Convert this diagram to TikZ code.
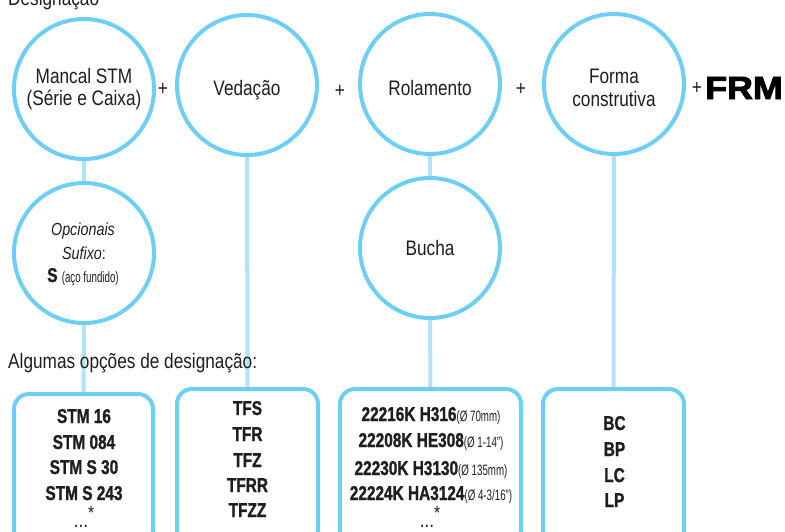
\documentclass[tikz,border=0pt]{standalone}
\usepackage{fontspec}
\usetikzlibrary{backgrounds}
\newfontfamily\cond[FakeStretch=0.82]{Liberation Sans}
\newfontfamily\bcond[FakeStretch=0.77,FakeBold=1.2]{Liberation Sans Bold}
\newfontfamily\xcond[FakeStretch=0.65]{Liberation Sans}
\newfontfamily\frmfont[FakeStretch=1.12,FakeBold=3]{Liberation Sans Bold}
\definecolor{ring}{HTML}{6DCFF6}
\definecolor{link}{HTML}{B0E2F8}
\definecolor{txtc}{HTML}{1E1E1E}
\newcommand{\sm}{\xcond\fontsize{15}{15}\selectfont}
\newcommand{\dotsstar}{{\cond\fontsize{21}{21}\selectfont ...}\raisebox{8pt}{\cond\fontsize{19}{19}\selectfont *}}
\tikzset{
  circ/.style={circle, draw=ring, line width=4pt, minimum size=140pt, inner sep=0pt},
  boxx/.style={rectangle, draw=ring, line width=4pt, rounded corners=15pt, inner sep=0pt},
  conn/.style={draw=link, line width=4pt},
  txt/.style={font=\cond\fontsize{21}{21}\selectfont, text=txtc, inner sep=0pt, anchor=base},
  ittxt/.style={font=\cond\itshape\fontsize{17.5}{17.5}\selectfont, text=txtc, inner sep=0pt, anchor=base},
  btxt/.style={font=\bcond\fontsize{20}{20}\selectfont, text=txtc, inner sep=0pt, anchor=base},
  plus/.style={font=\cond\fontsize{21}{21}\selectfont, text=txtc, inner sep=0pt, anchor=center}
}
\begin{document}
\begin{tikzpicture}[x=1pt,y=-1pt]
\useasboundingbox (0,0) rectangle (785,531);
\clip (0,0) rectangle (785,531);
% headings
\node[txt, anchor=base west] (hd1) at (8,5) {Designação};
\node[txt, anchor=base west] (hd2) at (8,368) {Algumas opções de designação:};
% circles
\node[circ] (c1) at (84,89) {};
\node[circ] (c2) at (247,85) {};
\node[circ] (c3) at (430,84) {};
\node[circ] (c4) at (614,84) {};
\node[circ] (c5) at (84,253) {};
\node[circ] (c6) at (430,248) {};
% boxes
\node[boxx, minimum width=139pt, minimum height=151pt] (b1) at (83.5,469.5) {};
\node[boxx, minimum width=141pt, minimum height=156pt] (b2) at (247.5,467) {};
\node[boxx, minimum width=181pt, minimum height=156pt] (b3) at (430.5,467) {};
\node[boxx, minimum width=141pt, minimum height=156pt] (b4) at (613.5,467) {};
% connectors
\begin{scope}[on background layer]
\draw[conn] (c1.south) -- (c5.north);
\draw[conn] (c5.south) -- (b1.north);
\draw[conn] (c2.south) -- (b2.north);
\draw[conn] (c3.south) -- (c6.north);
\draw[conn] (c6.south) -- (b3.north);
\draw[conn] (c4.south) -- (b4.north);
\end{scope}
% circle texts
\node[txt] (t1a) at (84,83) {Mancal STM};
\node[txt] (t1b) at (84,105) {(Série e Caixa)};
\node[txt] (t2) at (247,95) {Vedação};
\node[txt] (t3) at (430,95) {Rolamento};
\node[txt] (t4a) at (614,83) {Forma};
\node[txt] (t4b) at (614,106) {construtiva};
\node[ittxt] (t5a) at (83,235) {Opcionais};
\node[ittxt] (t5b) at (84,259) {Sufixo\upshape:};
\node[btxt] (t5c) at (83,282) {S {\sm(aço fundido)}};
\node[txt] (t6) at (430,255) {Bucha};
% plus signs and FRM
\node[plus] (p1) at (163,89) {+};
\node[plus] (p2) at (340,91) {+};
\node[plus] (p3) at (521,89) {+};
\node[plus] (p4) at (697,88) {+};
\node[font=\frmfont\fontsize{32}{32}\selectfont, text=black, inner sep=0pt, anchor=base west] (frm) at (705,99) {FRM};
% box 1
\node[btxt] (s1) at (84,423) {STM 16};
\node[btxt] (s2) at (84,449) {STM 084};
\node[btxt] (s3) at (84,474) {STM S 30};
\node[btxt] (s4) at (84,500) {STM S 243};
\node[txt] (s5) at (84,527) {\dotsstar};
% box 2
\node[btxt] (v1) at (247.5,415) {TFS};
\node[btxt] (v2) at (247.5,441) {TFR};
\node[btxt] (v3) at (247.5,467) {TFZ};
\node[btxt] (v4) at (247.5,492) {TFRR};
\node[btxt] (v5) at (247.5,517) {TFZZ};
% box 3
\node[btxt] (r1) at (431,421) {22216K H316{\sm(Ø 70mm)}};
\node[btxt] (r2) at (431,447) {22208K HE308{\sm(Ø 1-14”)}};
\node[btxt] (r3) at (431,475) {22230K H3130{\sm(Ø 135mm)}};
\node[btxt] (r4) at (431,500) {22224K HA3124{\sm(Ø 4-3/16”)}};
\node[txt] (r5) at (430,527) {\dotsstar};
% box 4
\node[btxt] (f1) at (614.5,430) {BC};
\node[btxt] (f2) at (614.5,456) {BP};
\node[btxt] (f3) at (614.5,482) {LC};
\node[btxt] (f4) at (614.5,507) {LP};
\end{tikzpicture}
\end{document}
